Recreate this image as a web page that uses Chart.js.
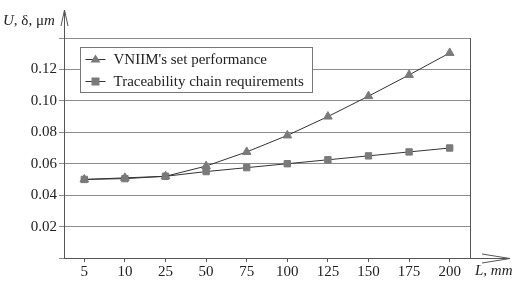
<!DOCTYPE html>
<html>
<head>
<meta charset="utf-8">
<script src="https://cdn.jsdelivr.net/npm/chart.js@4/dist/chart.umd.min.js"></script>
<style>
  html, body { margin: 0; padding: 0; background: #fff; }
  #wrap { width: 521px; height: 289px; position: relative; }
</style>
</head>
<body>
<div id="wrap"><canvas id="chart"></canvas></div>
<script>
// Data
const lengths = ['5', '10', '25', '50', '75', '100', '125', '150', '175', '200'];
const vniimSet = [0.050, 0.051, 0.052, 0.0585, 0.0675, 0.078, 0.090, 0.103, 0.1165, 0.1305];
const traceReq = [0.050, 0.0505, 0.052, 0.055, 0.0575, 0.060, 0.0625, 0.065, 0.0675, 0.070];
const seriesNames = ["VNIIM's set performance", 'Traceability chain requirements'];
const yTicks = [0, 0.02, 0.04, 0.06, 0.08, 0.10, 0.12, 0.14];

const FONT = '"Liberation Serif", "DejaVu Serif", serif';
const LINE = '#333333';
const MARK = '#7a7a7a';
const GRID = '#8c8c8c';

// Axis titles, arrows, right border and the boxed legend
const decorations = {
    id: 'decorations',
    afterDraw(chart) {
        const ctx = chart.ctx;
        const a = chart.chartArea;
        ctx.save();
        ctx.strokeStyle = '#555';
        ctx.lineWidth = 1;

        // right border
        ctx.beginPath();
        ctx.moveTo(a.right + 0.5, a.top);
        ctx.lineTo(a.right + 0.5, a.bottom);
        ctx.stroke();

        // y axis extension with open arrow
        const ax = a.left + 0.5;
        ctx.beginPath();
        ctx.moveTo(ax, a.top);
        ctx.lineTo(ax, 10);
        ctx.moveTo(ax - 3.5, 26);
        ctx.lineTo(ax, 10);
        ctx.lineTo(ax + 3.5, 26);
        ctx.stroke();

        // x axis extension with open arrow
        const ay = a.bottom + 0.5;
        ctx.beginPath();
        ctx.moveTo(a.right, ay);
        ctx.lineTo(510, ay);
        ctx.moveTo(482, ay - 4.5);
        ctx.lineTo(510, ay);
        ctx.lineTo(482, ay + 4.5);
        ctx.stroke();

        // axis titles
        ctx.fillStyle = '#222';
        ctx.textBaseline = 'alphabetic';
        ctx.textAlign = 'left';
        let x = 3;
        const parts = [['italic', 'U'], ['normal', ', δ, μ'], ['italic', 'm']];
        parts.forEach(([style, txt]) => {
            ctx.font = style + ' 15px ' + FONT;
            ctx.fillText(txt, x, 25);
            x += ctx.measureText(txt).width;
        });
        ctx.font = 'italic 15px ' + FONT;
        ctx.fillText('L, mm', 475, 275);

        // legend box
        const bx = 80.5, by = 47.5, bw = 232, bh = 45;
        ctx.fillStyle = '#fff';
        ctx.fillRect(bx, by, bw, bh);
        ctx.strokeStyle = '#777';
        ctx.strokeRect(bx, by, bw, bh);
        chart.data.datasets.forEach((ds, i) => {
            const cy = by + 12 + i * 22;
            ctx.strokeStyle = LINE;
            ctx.beginPath();
            ctx.moveTo(bx + 5, cy);
            ctx.lineTo(bx + 25, cy);
            ctx.stroke();
            ctx.fillStyle = MARK;
            if (ds.pointStyle === 'triangle') {
                ctx.beginPath();
                ctx.moveTo(bx + 15, cy - 5);
                ctx.lineTo(bx + 20, cy + 3);
                ctx.lineTo(bx + 10, cy + 3);
                ctx.closePath();
                ctx.fill();
            } else {
                ctx.fillRect(bx + 11, cy - 4, 8, 8);
            }
            ctx.fillStyle = '#222';
            ctx.font = '15px ' + FONT;
            ctx.textBaseline = 'middle';
            ctx.fillText(ds.label, bx + 33, cy + 1);
        });
        ctx.restore();
    }
};

new Chart(document.getElementById('chart'), {
    type: 'line',
    data: {
        labels: lengths,
        datasets: [
            {
                label: seriesNames[0],
                data: vniimSet,
                borderColor: LINE,
                borderWidth: 1,
                pointStyle: 'triangle',
                pointRadius: 5,
                pointBackgroundColor: MARK,
                pointBorderColor: MARK,
                tension: 0
            },
            {
                label: seriesNames[1],
                data: traceReq,
                borderColor: LINE,
                borderWidth: 1,
                pointStyle: 'rect',
                pointRadius: 4.5,
                pointBackgroundColor: MARK,
                pointBorderColor: MARK,
                tension: 0
            }
        ]
    },
    options: {
        responsive: true,
        maintainAspectRatio: false,
        animation: false,
        layout: { padding: { left: 0, right: 51, top: 38, bottom: 0 } },
        plugins: {
            legend: { display: false },
            tooltip: { enabled: false }
        },
        scales: {
            x: {
                type: 'category',
                offset: true,
                afterFit(scale) { scale.height = 31; },
                grid: {
                    display: true,
                    drawOnChartArea: false,
                    drawTicks: true,
                    tickLength: 4,
                    offset: false,
                    color: '#555'
                },
                border: { display: true, color: '#555', width: 1 },
                ticks: {
                    color: '#222',
                    font: { family: FONT, size: 15 },
                    padding: 1,
                    maxRotation: 0,
                    autoSkip: false
                }
            },
            y: {
                min: 0,
                max: 0.14,
                afterFit(scale) { scale.width = 64; },
                afterBuildTicks(scale) {
                    scale.ticks = yTicks.map(v => ({ value: v }));
                },
                grid: {
                    color: GRID,
                    tickLength: 5,
                    drawTicks: true,
                    lineWidth: 1
                },
                border: { display: true, color: '#555', width: 1 },
                ticks: {
                    color: '#222',
                    font: { family: FONT, size: 15 },
                    padding: 2,
                    callback(v) {
                        if (v === 0 || v > 0.13) return '';
                        return v.toFixed(2);
                    }
                }
            }
        }
    },
    plugins: [decorations]
});
</script>
</body>
</html>
